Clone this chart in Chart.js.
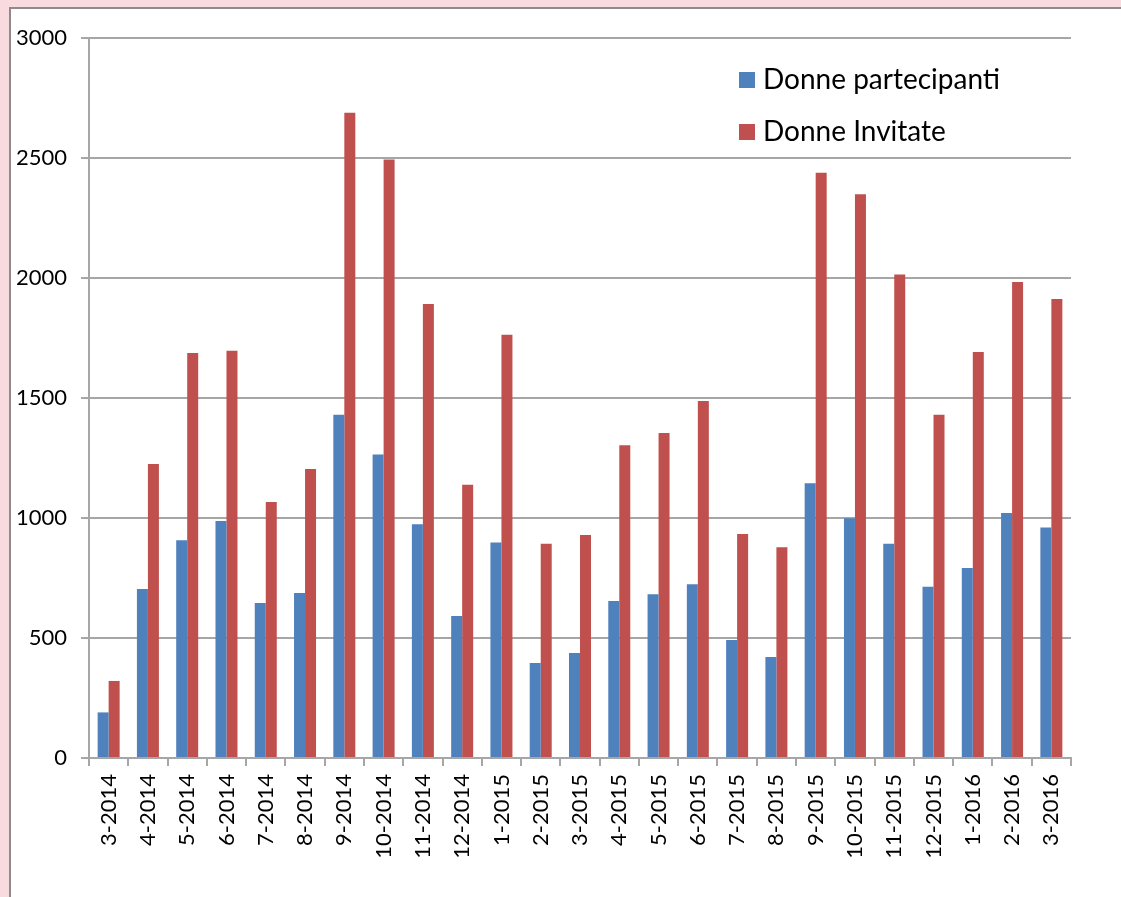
<!DOCTYPE html>
<html>
<head>
<meta charset="utf-8">
<script src="https://cdn.jsdelivr.net/npm/chart.js@4"></script>
<style>
  html, body { margin: 0; padding: 0; }
  body { width: 1121px; height: 897px; background: #f9dade; position: relative; overflow: hidden; }
  #panel { position: absolute; left: 9px; top: 7px; right: -20px; bottom: -20px; background: #fff; border: 2px solid #8c8c8c; }
  #wrap { position: absolute; left: 0; top: 0; width: 1121px; height: 897px; }
  #reportChart { display: block; }
</style>
</head>
<body>
<div id="panel"></div>
<div id="wrap"><canvas id="reportChart" width="1121" height="897"></canvas></div>
<script>
// DATA
const months = ['3-2014', '4-2014', '5-2014', '6-2014', '7-2014', '8-2014', '9-2014', '10-2014', '11-2014', '12-2014',
  '1-2015', '2-2015', '3-2015', '4-2015', '5-2015', '6-2015', '7-2015', '8-2015', '9-2015', '10-2015', '11-2015', '12-2015',
  '1-2016', '2-2016', '3-2016'];
const partecipanti = [190, 704, 907, 987, 646, 688, 1430, 1265, 974, 592,
  898, 396, 437, 654, 682, 724, 492, 421, 1145, 999, 893, 714,
  792, 1021, 960];
const invitate = [321, 1225, 1688, 1697, 1067, 1204, 2689, 2494, 1892, 1139,
  1764, 893, 929, 1303, 1354, 1488, 933, 878, 2439, 2349, 2015, 1430,
  1692, 1983, 1912];
const yTicks = [0, 500, 1000, 1500, 2000, 2500, 3000];

const FONT = 'Lato, "Open Sans", sans-serif';
const gridGray = '#a6a6a6';

// legend drawn inside the plot, top right
const insideLegend = {
  id: 'insideLegend',
  afterDraw(chart) {
    const c = chart.ctx;
    const area = chart.chartArea;
    c.save();
    c.font = '28px ' + FONT;
    c.textBaseline = 'middle';
    chart.data.datasets.forEach((ds, i) => {
      const x = area.right - 332;
      const y = area.top + 42 + i * 52;
      c.fillStyle = ds.backgroundColor;
      c.fillRect(x, y - 8, 16, 16);
      c.fillStyle = '#000';
      c.fillText(ds.label, x + 24, y);
    });
    c.restore();
  }
};

var ctx = document.getElementById('reportChart').getContext('2d');

var chart = new Chart(ctx, {
  type: 'bar',
  data: {
    labels: months,
    datasets: [{
      label: 'Donne partecipanti',
      backgroundColor: '#4f81bd',
      data: partecipanti
    }, {
      label: 'Donne Invitate',
      backgroundColor: '#c0504d',
      data: invitate
    }]
  },
  options: {
    responsive: false,
    maintainAspectRatio: false,
    animation: false,
    devicePixelRatio: 1,
    layout: { padding: { left: 10, top: 38, right: 50, bottom: 9 } },
    categoryPercentage: 0.56,
    barPercentage: 1,
    plugins: {
      legend: { display: false },
      tooltip: { enabled: false }
    },
    scales: {
      x: {
        offset: true,
        grid: { display: true, offset: true, drawOnChartArea: false, drawTicks: true, tickLength: 8, color: gridGray, lineWidth: 2 },
        border: { display: true, color: gridGray, width: 2 },
        ticks: { color: '#000', font: { family: FONT, size: 22 }, minRotation: 90, maxRotation: 90, padding: 8, autoSkip: false },
        afterFit(s) { s.height = 130; }
      },
      y: {
        min: 0,
        max: 3000,
        afterBuildTicks(s) { s.ticks = yTicks.map(v => ({ value: v })); },
        grid: { color: gridGray, lineWidth: 2, tickLength: 8 },
        border: { display: true, color: gridGray, width: 2 },
        ticks: { color: '#000', font: { family: FONT, size: 22 }, padding: 14, callback: v => String(v) },
        afterFit(s) { s.width = 79; }
      }
    }
  },
  plugins: [insideLegend]
});
</script>
</body>
</html>
